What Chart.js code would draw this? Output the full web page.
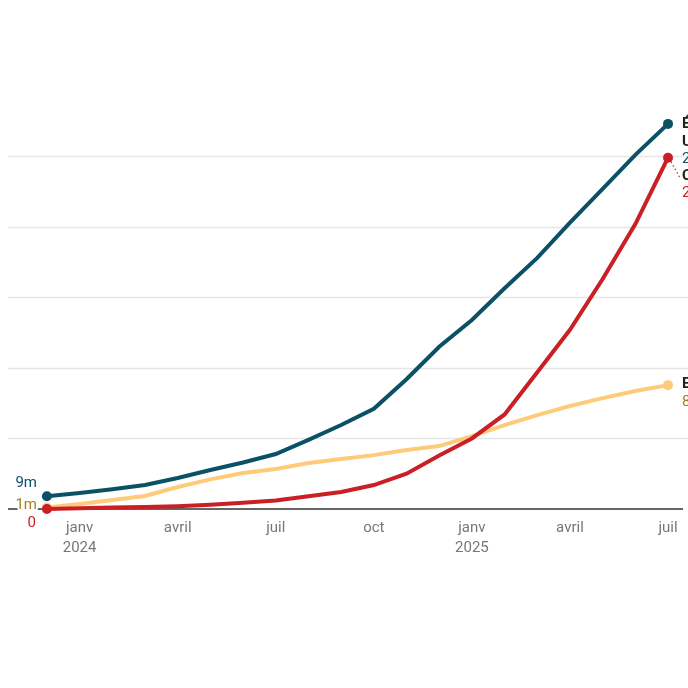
<!DOCTYPE html>
<html>
<head>
<meta charset="utf-8">
<script src="https://cdn.jsdelivr.net/npm/chart.js@4"></script>
<style>
  html, body { margin: 0; padding: 0; background: #fff; }
  #wrap { width: 688px; height: 688px; position: relative; }
</style>
</head>
<body>
<div id="wrap"><canvas id="c" width="688" height="688"></canvas></div>
<script>
// Months from déc 2023 (index 0) to juil 2025 (index 19)
const months = ['déc 2023','janv 2024','févr 2024','mars 2024','avr 2024','mai 2024','juin 2024','juil 2024','août 2024','sept 2024','oct 2024','nov 2024','déc 2024','janv 2025','févr 2025','mars 2025','avr 2025','mai 2025','juin 2025','juil 2025'];
const usa    = [9, 11.3, 14, 17, 22, 27.6, 33, 39, 49, 59.5, 71, 92, 115, 134, 156.5, 178, 203, 227, 251, 273];
const china  = [0, 0.5, 1, 1.5, 2, 3, 4.5, 6, 9, 12, 17, 25, 38, 50, 67, 97, 127, 163, 202, 249];
const europe = [1, 3.5, 6.4, 9.2, 15.6, 21, 25.5, 28.3, 32.6, 35.4, 38.2, 41.8, 44.6, 51.7, 59.5, 66.6, 73, 78.6, 83.6, 87.8];
const tickPositions = [1, 4, 7, 10, 13, 16, 19];
const tickLabels = [['janv','2024'], 'avril', 'juil', 'oct', ['janv','2025'], 'avril', 'juil'];
const gridValues = [50, 100, 150, 200, 250];

const BLUE = '#0b5166', RED = '#c91f25', YELLOW = '#fecb7b', BROWN = '#a6801f';

function toXY(arr){ return arr.map((v,i)=>({x:i, y:v})); }
function endPts(arr){ return arr.map((v,i)=> (i===0 || i===arr.length-1) ? 5 : 0); }

const labelPlugin = {
  id: 'labels',
  beforeDatasetsDraw(chart){
    const {ctx} = chart;
    const y = chart.scales.y;
    ctx.save();
    ctx.strokeStyle = '#e6e6e6';
    ctx.lineWidth = 1.5;
    gridValues.forEach(v => {
      const py = Math.round(y.getPixelForValue(v)) + 0.5;
      ctx.beginPath(); ctx.moveTo(8, py); ctx.lineTo(688, py); ctx.stroke();
    });
    const y0 = y.getPixelForValue(0);
    ctx.strokeStyle = '#333';
    ctx.lineWidth = 1.5;
    ctx.beginPath();
    ctx.moveTo(8, y0);
    ctx.lineTo(683, y0);
    ctx.stroke();
    ctx.restore();
  },
  afterDatasetsDraw(chart){
    const {ctx} = chart;
    const xs = chart.scales.x, ys = chart.scales.y;
    const last = usa.length - 1;
    ctx.save();
    // start labels
    ctx.textAlign = 'right';
    ctx.textBaseline = 'middle';
    ctx.font = '15px Roboto';
    ctx.lineJoin = 'round';
    const sx = 37;
    ctx.fillStyle = BLUE;
    ctx.fillText(usa[0] + 'm', sx, ys.getPixelForValue(usa[0]) - 13);
    ctx.strokeStyle = '#fff'; ctx.lineWidth = 4;
    ctx.strokeText(europe[0] + 'm', sx, ys.getPixelForValue(europe[0]) - 2);
    ctx.fillStyle = BROWN;
    ctx.fillText(europe[0] + 'm', sx, ys.getPixelForValue(europe[0]) - 2);
    ctx.fillStyle = RED;
    ctx.fillText(String(china[0]), sx - 1, ys.getPixelForValue(china[0]) + 14);

    // end labels
    const ex = xs.getPixelForValue(last) + 14;
    ctx.textAlign = 'left';
    const uy = ys.getPixelForValue(usa[last]);
    ctx.font = 'bold 15px Roboto';
    ctx.fillStyle = '#222';
    ctx.fillText('États-', ex, uy);
    ctx.fillText('Unis', ex, uy + 18);
    ctx.font = '15px Roboto';
    ctx.fillStyle = BLUE;
    ctx.fillText(Math.round(usa[last]) + 'm', ex, uy + 35);
    const cy = uy + 52;
    ctx.font = 'bold 15px Roboto';
    ctx.fillStyle = '#222';
    ctx.fillText('Chine', ex, cy);
    ctx.font = '15px Roboto';
    ctx.fillStyle = RED;
    ctx.fillText(Math.round(china[last]) + 'm', ex, cy + 17);
    // dotted connector for China
    const rpx = xs.getPixelForValue(last), rpy = ys.getPixelForValue(china[last]);
    ctx.strokeStyle = RED; ctx.lineWidth = 1.2; ctx.setLineDash([1.5, 2.5]);
    ctx.beginPath(); ctx.moveTo(rpx + 3, rpy + 4); ctx.lineTo(ex - 2, cy + 2); ctx.stroke();
    ctx.setLineDash([]);
    const eyy = ys.getPixelForValue(europe[last]);
    ctx.font = 'bold 15px Roboto';
    ctx.fillStyle = '#222';
    ctx.fillText('Europe', ex, eyy - 1);
    ctx.font = '15px Roboto';
    ctx.fillStyle = BROWN;
    ctx.fillText(Math.round(europe[last]) + 'm', ex, eyy + 17);
    ctx.restore();
  }
};

new Chart(document.getElementById('c'), {
  type: 'line',
  data: {
    datasets: [
      { label: 'États-Unis', data: toXY(usa), borderColor: BLUE, backgroundColor: BLUE, borderWidth: 4, pointRadius: endPts(usa), pointBorderWidth: 0, tension: 0, clip: false },
      { label: 'Chine', data: toXY(china), borderColor: RED, backgroundColor: RED, borderWidth: 4, pointRadius: endPts(china), pointBorderWidth: 0, tension: 0, clip: false },
      { label: 'Europe', data: toXY(europe), borderColor: YELLOW, backgroundColor: YELLOW, borderWidth: 4, pointRadius: endPts(europe), pointBorderWidth: 0, tension: 0, clip: false }
    ]
  },
  options: {
    responsive: false,
    animation: false,
    devicePixelRatio: 1,
    layout: { padding: { left: 8, right: 0, top: 114, bottom: 119 } },
    plugins: { legend: { display: false }, tooltip: { enabled: false } },
    scales: {
      x: {
        type: 'linear',
        min: -1.191,
        max: 19.458,
        afterFit(scale){ scale.height = 60; },
        afterBuildTicks(scale){ scale.ticks = tickPositions.map(v => ({value: v})); },
        grid: { display: false, drawTicks: false },
        border: { display: false },
        ticks: {
          padding: 9,
          color: '#777',
          font: { family: 'Roboto', size: 15, lineHeight: 1.35 },
          maxRotation: 0,
          autoSkip: false,
          callback(value){ const i = tickPositions.indexOf(value); return i >= 0 ? tickLabels[i] : ''; }
        }
      },
      y: {
        min: 0,
        max: 280,
        afterFit(scale){ scale.width = 0; },
        ticks: { display: false, stepSize: 50 },
        grid: { display: false, drawTicks: false },
        border: { display: false }
      }
    }
  },
  plugins: [labelPlugin]
});
</script>
</body>
</html>
